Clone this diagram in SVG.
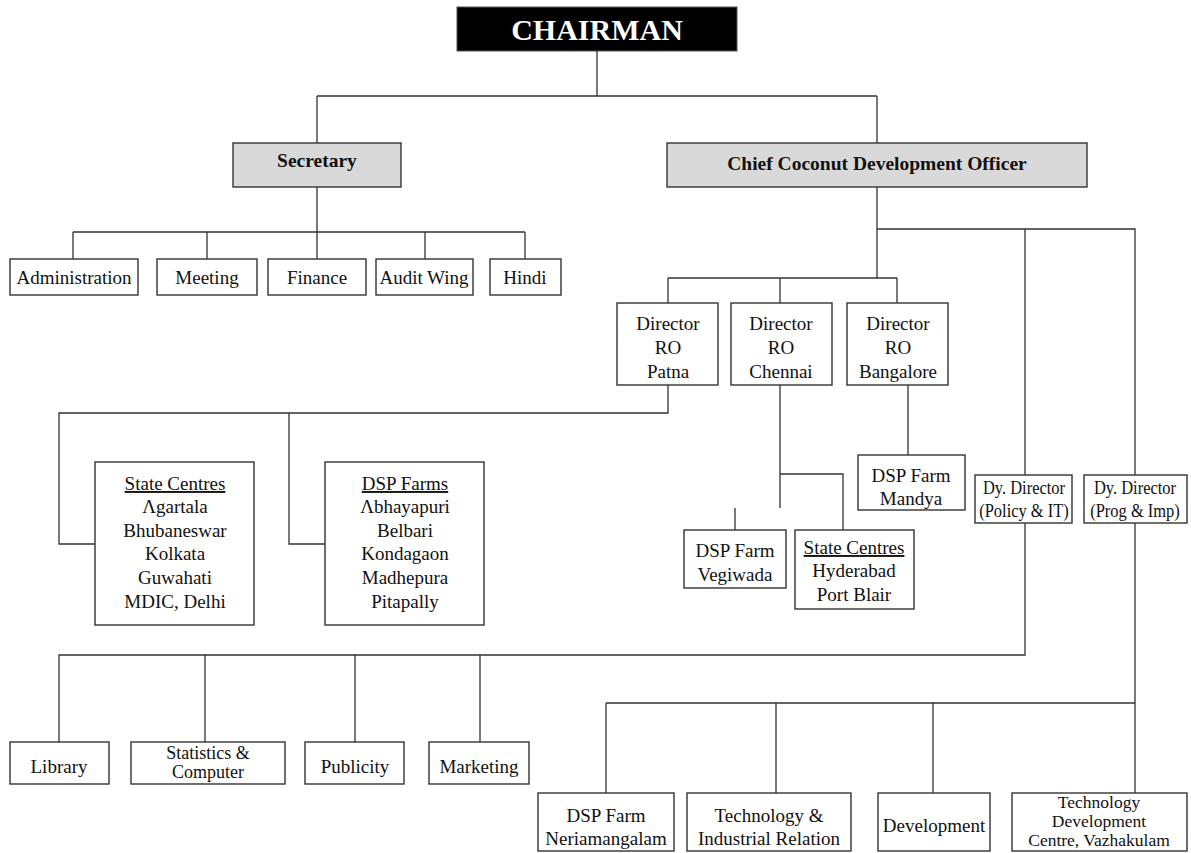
<svg xmlns="http://www.w3.org/2000/svg" width="1191" height="853" viewBox="0 0 1191 853">
<style>
.bx{fill:#fff;stroke:#333;stroke-width:1.4}
.gb{fill:#d9d9d9;stroke:#333;stroke-width:1.4}
.t{font-family:"Liberation Serif","Times New Roman",serif;font-size:19px;fill:#111;text-anchor:middle}
.s{font-size:18.5px;transform-box:fill-box;transform-origin:center;transform:scaleX(0.89)}
.c{font-size:17.5px}
.b{font-weight:bold;font-size:19.5px}
.u{text-decoration:underline}
#conn path{fill:none;stroke:#333;stroke-width:1.3}
</style>
<rect width="1191" height="853" fill="#fff"/>
<g id="conn">
<path d="M597 51V96M317 96H877M317 96V143M877 96V143"/>
<path d="M317 187V232M73 232H525M73 232V259M207 232V259M317 232V259M425 232V259M525 232V259"/>
<path d="M877 187V278M877 229H1135V475M1025 229V475M668 278H897M668 278V303M780 278V303M897 278V303"/>
<path d="M668 385V413H59V544H95M289 413V544H325"/>
<path d="M780 385V508M780 474H843V530M735 508V530"/>
<path d="M908 385V455"/>
<path d="M1025 523V655H59V742M205 655V742M355 655V742M480 655V742"/>
<path d="M1135 523V793M606 703H1135M606 703V793M776 703V793M933 703V793"/>
</g>
<g id="chairman"><rect x="457" y="7" width="280" height="44" fill="#000" stroke="#555"/><text class="t b" x="597" y="40" style="font-size:30px;fill:#fff">CHAIRMAN</text></g>
<g id="secretary"><rect class="gb" x="233" y="143" width="168" height="44"/><text class="t b" x="317" y="167">Secretary</text></g>
<g id="ccdo"><rect class="gb" x="667" y="143" width="420" height="44"/><text class="t b" x="877" y="170">Chief Coconut Development Officer</text></g>
<g id="administration"><rect class="bx" x="10" y="259" width="128" height="36"/><text class="t" x="74" y="284">Administration</text></g>
<g id="meeting"><rect class="bx" x="157" y="259" width="100" height="36"/><text class="t" x="207" y="284">Meeting</text></g>
<g id="finance"><rect class="bx" x="268" y="259" width="98" height="36"/><text class="t" x="317" y="284">Finance</text></g>
<g id="audit"><rect class="bx" x="376" y="259" width="97" height="36"/><text class="t" x="424" y="284">Audit Wing</text></g>
<g id="hindi"><rect class="bx" x="490" y="259" width="71" height="36"/><text class="t" x="525" y="284">Hindi</text></g>
<g id="dir-patna"><rect class="bx" x="617" y="303" width="101" height="82"/><text class="t" x="668" y="330">Director</text><text class="t" x="668" y="354">RO</text><text class="t" x="668" y="378">Patna</text></g>
<g id="dir-chennai"><rect class="bx" x="731" y="303" width="101" height="82"/><text class="t" x="781" y="330">Director</text><text class="t" x="781" y="354">RO</text><text class="t" x="781" y="378">Chennai</text></g>
<g id="dir-bangalore"><rect class="bx" x="847" y="303" width="101" height="82"/><text class="t" x="898" y="330">Director</text><text class="t" x="898" y="354">RO</text><text class="t" x="898" y="378">Bangalore</text></g>
<g id="state-centres-east"><rect class="bx" x="95" y="462" width="159" height="163"/>
<text class="t u" x="175" y="490">State Centres</text><text class="t" x="175" y="513">Λgartala</text><text class="t" x="175" y="537">Bhubaneswar</text><text class="t" x="175" y="560">Kolkata</text><text class="t" x="175" y="584">Guwahati</text><text class="t" x="175" y="608">MDIC, Delhi</text></g>
<g id="dsp-farms"><rect class="bx" x="325" y="462" width="159" height="163"/>
<text class="t u" x="405" y="490">DSP Farms</text><text class="t" x="405" y="513">Λbhayapuri</text><text class="t" x="405" y="537">Belbari</text><text class="t" x="405" y="560">Kondagaon</text><text class="t" x="405" y="584">Madhepura</text><text class="t" x="405" y="608">Pitapally</text></g>
<g id="dsp-mandya"><rect class="bx" x="858" y="455" width="107" height="55"/><text class="t" x="911" y="482">DSP Farm</text><text class="t" x="911" y="505">Mandya</text></g>
<g id="dsp-vegiwada"><rect class="bx" x="684" y="530" width="102" height="58"/><text class="t" x="735" y="557">DSP Farm</text><text class="t" x="735" y="581">Vegiwada</text></g>
<g id="state-centres-south"><rect class="bx" x="795" y="530" width="119" height="79"/><text class="t u" x="854" y="554">State Centres</text><text class="t" x="854" y="577">Hyderabad</text><text class="t" x="854" y="601">Port Blair</text></g>
<g id="dy-policy"><rect class="bx" x="975" y="475" width="97" height="48"/><text class="t s" x="1024" y="494">Dy. Director</text><text class="t s" x="1024" y="517">(Policy &amp; IT)</text></g>
<g id="dy-prog"><rect class="bx" x="1084" y="475" width="103" height="48"/><text class="t s" x="1135" y="494">Dy. Director</text><text class="t s" x="1135" y="517">(Prog &amp; Imp)</text></g>
<g id="library"><rect class="bx" x="10" y="742" width="99" height="42"/><text class="t" x="59" y="773">Library</text></g>
<g id="statistics"><rect class="bx" x="131" y="742" width="154" height="42"/><text class="t" x="208" y="759" style="font-size:18px">Statistics &amp;</text><text class="t" x="208" y="778" style="font-size:18px">Computer</text></g>
<g id="publicity"><rect class="bx" x="305" y="742" width="99" height="42"/><text class="t" x="355" y="773">Publicity</text></g>
<g id="marketing"><rect class="bx" x="429" y="742" width="100" height="42"/><text class="t" x="479" y="773">Marketing</text></g>
<g id="dsp-neriamangalam"><rect class="bx" x="538" y="793" width="136" height="58"/><text class="t" x="606" y="822">DSP Farm</text><text class="t" x="606" y="845">Neriamangalam</text></g>
<g id="tech-industrial"><rect class="bx" x="687" y="793" width="164" height="58"/><text class="t" x="769" y="822">Technology &amp;</text><text class="t" x="769" y="845">Industrial Relation</text></g>
<g id="development"><rect class="bx" x="878" y="793" width="112" height="58"/><text class="t" x="934" y="832">Development</text></g>
<g id="tdc-vazhakulam"><rect class="bx" x="1012" y="793" width="175" height="58"/><text class="t c" x="1099" y="808">Technology</text><text class="t c" x="1099" y="827">Development</text><text class="t c" x="1099" y="846">Centre, Vazhakulam</text></g>
</svg>
